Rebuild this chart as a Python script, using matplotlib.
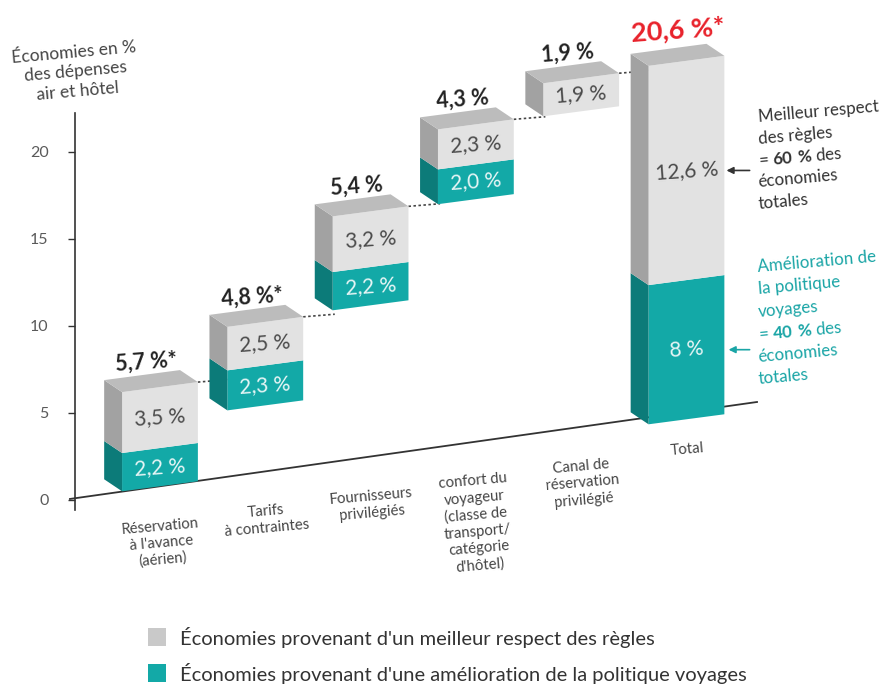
import matplotlib
matplotlib.use('Agg')
import matplotlib.pyplot as plt
from matplotlib.patches import Polygon, Rectangle

plt.rcParams['font.family'] = ['Lato', 'DejaVu Sans']
plt.rcParams['mathtext.fontset'] = 'custom'
plt.rcParams['mathtext.rm'] = 'Lato'
plt.rcParams['mathtext.bf'] = 'Lato:bold'

# ---------------------------------------------------------------------------
# Data
# ---------------------------------------------------------------------------
categories = [
    "Réservation\nà l'avance\n(aérien)",
    "Tarifs\nà contraintes",
    "Fournisseurs\nprivilégiés",
    "confort du\nvoyageur\n(classe de\ntransport/\ncatégorie\nd'hôtel)",
    "Canal de\nréservation\nprivilégié",
    "Total",
]
policy = [2.2, 2.3, 2.2, 2.0, 0.0, 8.0]          # teal
compliance = [3.5, 2.5, 3.2, 2.3, 1.9, 12.6]     # gray
step_totals = [5.7, 4.8, 5.4, 4.3, 1.9, 20.6]
policy_labels = ['2,2 %', '2,3 %', '2,2 %', '2,0 %', '', '8 %']
compliance_labels = ['3,5 %', '2,5 %', '3,2 %', '2,3 %', '1,9 %', '12,6 %']
total_labels = ['5,7 %*', '4,8 %*', '5,4 %', '4,3 %', '1,9 %', '20,6 %*']

note_gray = ['Meilleur respect', 'des règles', '= $\\mathbf{60\\ \\%}$ des',
             'économies', 'totales']
note_teal = ['Amélioration de', 'la politique', 'voyages',
             '= $\\mathbf{40\\ \\%}$ des', 'économies', 'totales']

# ---------------------------------------------------------------------------
# Style / layout
# ---------------------------------------------------------------------------
TEAL = '#13a9a7'
TEAL_SIDE = '#0c7b79'
GRAY = '#e2e2e2'
GRAY_SIDE = '#a2a2a2'
GRAY_TOP = '#bcbcbc'
DARK = '#333333'
TXT = '#454545'
RED = '#e8222b'
TEAL_TXT = '#1aa5a6'

HW = 0.36             # half width of the front face
SHEAR = 0.8           # perspective rise of the front face (units per index)
DX, DY = -0.17, 0.69  # depth vector
# perspective lift of each box (the picture is drawn in slanted perspective)
lift = [0.5, -0.55, 0.4, 1.1, 1.85, 4.35]

fig = plt.figure(figsize=(8.86, 6.85), dpi=100)
fig.patch.set_facecolor('white')
ax = fig.add_axes([75 / 886, (685 - 510) / 685, 811 / 886, 397 / 685])
ax.set_xlim(-0.807, 6.895)
ax.set_ylim(-0.575, 22.24)
for s in ['top', 'right', 'bottom']:
    ax.spines[s].set_visible(False)
ax.spines['left'].set_color(DARK)
ax.spines['left'].set_linewidth(1.2)
ax.set_xticks([])
ax.set_yticks([0, 5, 10, 15, 20])
ax.tick_params(axis='y', length=5, width=1, color=DARK, labelcolor='#5a5a5a',
               labelsize=11.5, pad=14)


def base(x):
    return 0.06 + 0.854 * (x + 0.855)


# sloped baseline
ax.plot([-0.855, 5.67], [base(-0.855), base(5.67)], color=DARK, lw=1.3,
        zorder=1, clip_on=False)


def box(xc, b, t, front, side, top=None, z=3):
    xl, xr = xc - HW, xc + HW
    r = SHEAR * 2 * HW
    ax.add_patch(Polygon([(xl, b), (xr, b + r), (xr, t + r), (xl, t)],
                         closed=True, facecolor=front, edgecolor='none', zorder=z, clip_on=False))
    ax.add_patch(Polygon([(xl, b), (xl, t), (xl + DX, t + DY), (xl + DX, b + DY)],
                         closed=True, facecolor=side, edgecolor='none', zorder=z, clip_on=False))
    if top is not None:
        ax.add_patch(Polygon([(xl, t), (xr, t + r), (xr + DX, t + r + DY), (xl + DX, t + DY)],
                             closed=True, facecolor=top, edgecolor='none', zorder=z, clip_on=False))


starts = []
acc = 0.0
for i, v in enumerate(step_totals):
    if i == len(step_totals) - 1:
        starts.append(0.0)
    else:
        starts.append(acc)
        acc += v

n = len(categories)
prev = None
for i in range(n):
    xc = i
    b = starts[i] + lift[i]
    mid = b + policy[i]
    t = mid + compliance[i]
    # teal part
    if policy[i] > 0:
        box(xc, b, mid, TEAL, TEAL_SIDE)
        ax.text(xc, (b + mid) / 2 + SHEAR * HW, policy_labels[i], color='#e8f6f6',
                fontsize=15, ha='center', va='center', rotation=4, zorder=6)
    box(xc, mid, t, GRAY, GRAY_SIDE, GRAY_TOP)
    ax.text(xc, (mid + t) / 2 + SHEAR * HW, compliance_labels[i], color='#4a4a4a',
            fontsize=15, ha='center', va='center', rotation=4, zorder=6)
    # value on top
    if i == n - 1:
        ax.text(xc - 0.08, t + DY + 1.4, total_labels[i], color=RED, fontsize=19.5,
                fontweight='bold', ha='center', va='center', rotation=4, zorder=6)
    else:
        ax.text(xc - 0.13, t + DY + 1.05, total_labels[i], color='#222222', fontsize=15.5,
                fontweight='bold', ha='center', va='center', rotation=4, zorder=6)
    # dotted connector from previous box
    if prev is not None:
        px, py = prev
        ax.plot([px, xc - HW + 0.02], [py, py + 0.15], color='#444444', lw=1.2,
                ls=(0, (1.5, 1.5)), zorder=2, clip_on=False)
    prev = (xc + HW, t + SHEAR * 2 * HW)
    # category label
    ax.text(xc + 0.01, base(xc) - 1.7, categories[i], color=TXT, fontsize=10.7,
            ha='center', va='top', rotation=5, linespacing=1.25, zorder=6, clip_on=False)

# annotations on the right
tot = n - 1
tb = lift[tot]
xr = tot + HW
for k, line in enumerate(note_gray):
    ax.text(5.68, 22.0 - 1.25 * k, line, color=DARK, fontsize=12.2, ha='left', va='center',
            rotation=5, rotation_mode='anchor', clip_on=False)
for k, line in enumerate(note_teal):
    ax.text(5.68, 13.4 - 1.29 * k, line, color=TEAL_TXT, fontsize=12.2, ha='left', va='center',
            rotation=5, rotation_mode='anchor', clip_on=False)
y_gray = tb + policy[tot] + compliance[tot] / 2 + SHEAR * HW
y_teal = tb + policy[tot] / 2 + SHEAR * HW
ax.annotate('', xy=(xr + 0.02, y_gray), xytext=(xr + 0.24, y_gray),
            arrowprops=dict(arrowstyle='-|>', color=DARK, lw=1.2, mutation_scale=10,
                            shrinkA=0, shrinkB=0))
ax.annotate('', xy=(xr + 0.04, y_teal), xytext=(xr + 0.24, y_teal),
            arrowprops=dict(arrowstyle='-|>', color=TEAL_TXT, lw=1.2, mutation_scale=10,
                            shrinkA=0, shrinkB=0))

# y axis title
fig.text(76 / 886, 1 - 72 / 685, 'Économies en %\ndes dépenses\nair et hôtel', color=TXT,
         fontsize=12.5, ha='center', va='center', rotation=5, linespacing=1.3)

# legend
fig.add_artist(Rectangle((148 / 886, 1 - 646 / 685), 18 / 886, 18 / 685,
                         facecolor='#c9c9c9', edgecolor='none', transform=fig.transFigure))
fig.add_artist(Rectangle((148 / 886, 1 - 682 / 685), 18 / 886, 18 / 685,
                         facecolor=TEAL, edgecolor='none', transform=fig.transFigure))
fig.text(180 / 886, 1 - 637 / 685, "Économies provenant d'un meilleur respect des règles",
         color=DARK, fontsize=14.5, ha='left', va='center')
fig.text(180 / 886, 1 - 673 / 685, "Économies provenant d'une amélioration de la politique voyages",
         color=DARK, fontsize=14.5, ha='left', va='center')

fig.savefig('out.png', dpi=100, facecolor='white')
